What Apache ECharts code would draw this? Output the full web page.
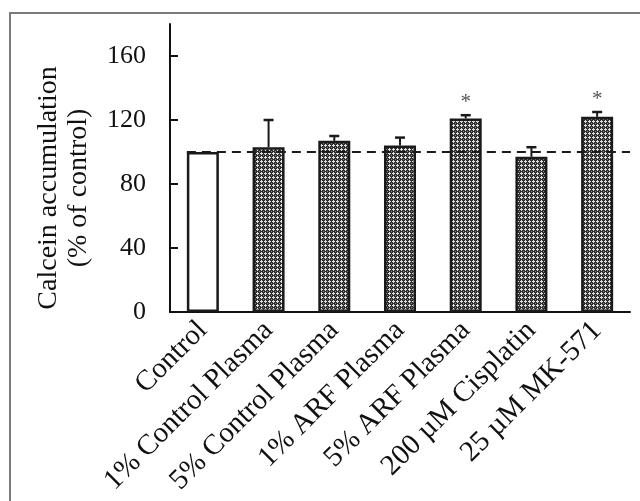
<!DOCTYPE html>
<html>
<head>
<meta charset="utf-8">
<script src="https://cdn.jsdelivr.net/npm/echarts@6/dist/echarts.min.js"></script>
<style>
  html, body { margin: 0; padding: 0; background: #fff; }
  #chart { width: 640px; height: 501px; }
</style>
</head>
<body>
<div id="chart"></div>
<script>
// data
var categories = ['Control', '1% Control Plasma', '5% Control Plasma', '1% ARF Plasma',
  '5% ARF Plasma', '200 µM Cisplatin', '25 µM MK-571'];
var values = [100, 103, 107, 104, 121, 97, 122];
var errors = [0, 17, 3, 5, 2, 6, 3];
var signif = ['', '', '', '', '*', '', '*'];
var yTicks = [0, 40, 80, 120, 160];
var refLevel = 100;

var serif = '"Liberation Serif", "DejaVu Serif", serif';

// dotted hatch fill like the printed bars
function makePattern() {
  var c = document.createElement('canvas');
  c.width = 4; c.height = 4;
  var ctx = c.getContext('2d');
  ctx.fillStyle = '#2e2e2e';
  ctx.fillRect(0, 0, 4, 4);
  ctx.fillStyle = '#e0e0e0';
  ctx.fillRect(1, 0, 1, 1);
  ctx.fillRect(0, 1, 3, 1);
  ctx.fillRect(1, 2, 1, 1);
  ctx.fillStyle = '#8a8a8a';
  ctx.fillRect(3, 3, 1, 1);
  return c;
}
var hatch = { image: makePattern(), repeat: 'repeat' };

var barData = values.map(function (v, i) {
  return {
    value: v,
    itemStyle: i === 0 ? { color: '#ffffff' } : { color: hatch }
  };
});
var errData = values.map(function (v, i) { return [i, v, errors[i], signif[i]]; });

var chart = echarts.init(document.getElementById('chart'), null, { renderer: 'canvas' });

var option = {
  backgroundColor: '#ffffff',
  animation: false,
  grid: { left: 170, right: 10, top: 24, bottom: 189, containLabel: false },
  graphic: [
    {
      type: 'polyline',
      shape: { points: [[10, 501], [10, 13], [640, 13]] },
      style: { stroke: '#7a7a7a', lineWidth: 2, fill: null }
    },
    {
      type: 'text',
      x: 64, y: 188,
      rotation: Math.PI / 2,
      style: {
        text: 'Calcein accumulation\n(% of control)',
        font: '28px ' + serif,
        fill: '#111',
        align: 'center',
        verticalAlign: 'middle',
        lineHeight: 30
      }
    }
  ],
  xAxis: {
    type: 'category',
    data: categories,
    axisLine: { lineStyle: { color: '#111', width: 2 } },
    axisTick: { show: false },
    axisLabel: {
      rotate: 45,
      margin: 14,
      interval: 0,
      color: '#111',
      fontFamily: serif,
      fontSize: 29
    }
  },
  yAxis: {
    type: 'value',
    min: 0,
    max: 180,
    interval: 40,
    splitLine: { show: false },
    axisLine: { show: true, lineStyle: { color: '#111', width: 2 } },
    axisTick: { show: true, inside: true, length: 8, customValues: yTicks, lineStyle: { width: 2, color: '#111' } },
    axisLabel: {
      customValues: yTicks,
      margin: 24,
      color: '#111',
      fontFamily: serif,
      fontSize: 26
    }
  },
  series: [
    {
      type: 'bar',
      data: barData,
      barWidth: 32,
      itemStyle: { borderColor: '#1a1a1a', borderWidth: 2.5 },
      z: 2
    },
    {
      // error bars (upper only) and significance stars
      type: 'custom',
      data: errData,
      z: 3,
      renderItem: function (params, api) {
        var i = api.value(0), v = api.value(1), e = api.value(2);
        var top = api.coord([i, v]);
        var hi = api.coord([i, v + e]);
        var children = [];
        if (e > 0) {
          children.push({
            type: 'line',
            shape: { x1: top[0], y1: top[1], x2: hi[0], y2: hi[1] },
            style: { stroke: '#1a1a1a', lineWidth: 2 }
          });
          children.push({
            type: 'line',
            shape: { x1: hi[0] - 5, y1: hi[1], x2: hi[0] + 5, y2: hi[1] },
            style: { stroke: '#1a1a1a', lineWidth: 2.5 }
          });
        }
        var s = signif[params.dataIndex];
        if (s) {
          children.push({
            type: 'text',
            x: hi[0], y: hi[1] - 13,
            style: { text: s, font: '21px ' + serif, fill: '#555', align: 'center', verticalAlign: 'middle' }
          });
        }
        return { type: 'group', children: children };
      }
    },
    {
      // dashed reference line at 100 % from the control bar to the axis end
      type: 'custom',
      data: [[0, refLevel]],
      z: 4,
      renderItem: function (params, api) {
        var start = api.coord([api.value(0), api.value(1)]);
        var cs = params.coordSys;
        return {
          type: 'line',
          shape: { x1: start[0] - 16, y1: start[1], x2: cs.x + cs.width, y2: start[1] },
          style: { stroke: '#1a1a1a', lineWidth: 2, lineDash: [9, 6] }
        };
      }
    }
  ]
};

chart.setOption(option);
</script>
</body>
</html>
